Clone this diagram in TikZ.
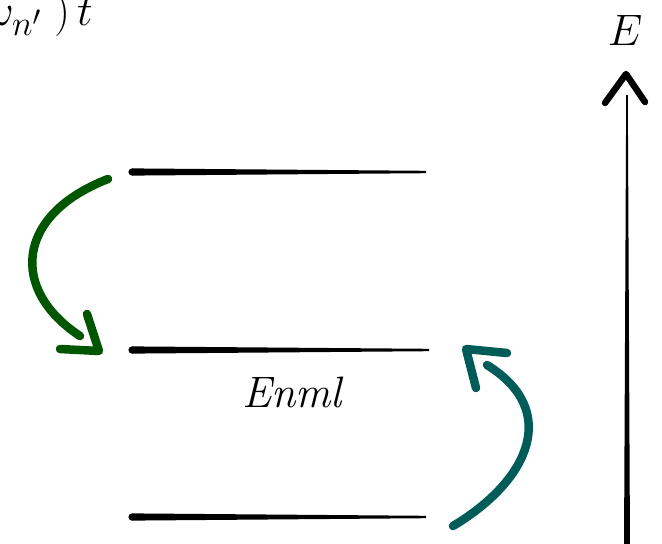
\RequirePackage{fix-cm}
\documentclass[tikz,border=0pt]{standalone}
\usepackage{tikz}
\DeclareMathSizes{44}{44}{35}{28}
\definecolor{darkgreen}{RGB}{0,85,0}
\definecolor{darkteal}{RGB}{0,92,88}
\begin{document}
\begin{tikzpicture}[x=1pt,y=-1pt,
  brush/.style={line width=8.5pt,line cap=round,line join=round},
  bigtext/.style={font=\fontsize{44}{48}\selectfont,inner sep=0pt}]
\useasboundingbox (0,0) rectangle (662,544);
% energy levels (tapered brush strokes)
\coordinate (t1) at (132,172); \coordinate (t2) at (426,172);
\coordinate (m1) at (132,350); \coordinate (m2) at (429,350);
\coordinate (b1) at (132,517); \coordinate (b2) at (426,517);
\foreach \a/\b in {t1/t2,m1/m2,b1/b2}{
  \fill ([yshift=3.6pt]\a) -- ([yshift=1.2pt]\b) -- ([yshift=-1.2pt]\b) -- ([yshift=-3.6pt]\a) -- cycle;
  \fill (\a) circle[radius=3.6pt];
}
% labels
\node[bigtext,anchor=base] (enml) at (293,407) {\textit{Enml}};
\node[bigtext,anchor=base east] (top) at (93,25) {$(\omega_n-\omega_{n'}\hspace{13pt})\,t$};
\node[bigtext,anchor=base] (elab) at (625,45) {$E$};
% energy axis
\coordinate (a0) at (627,548);
\coordinate (a1) at (626,74);
\coordinate (h1) at (605,103);
\coordinate (h2) at (645,102);
\fill ([xshift=-3pt]a0) -- ([xshift=-0.8pt]627,95) -- ([xshift=0.8pt]627,95) -- ([xshift=3pt]a0) -- cycle;
\draw[brush,line width=6.5pt] (h1) -- (a1) -- (h2);
% green arrow
\coordinate (g0) at (108,179);
\coordinate (g1) at (80,336);
\coordinate (gt) at (99,351);
\draw[brush,darkgreen] (g0) .. controls (15,215) and (10,290) .. (g1);
\draw[brush,darkgreen] (60,349) -- (gt) -- (87,314);
% teal arrow
\coordinate (c0) at (453,526);
\coordinate (c1) at (487,365);
\coordinate (ct) at (466,349);
\draw[brush,darkteal] (c0) .. controls (530,480) and (560,410) .. (c1);
\draw[brush,darkteal] (507,353) -- (ct) -- (476,388);
\end{tikzpicture}
\end{document}
